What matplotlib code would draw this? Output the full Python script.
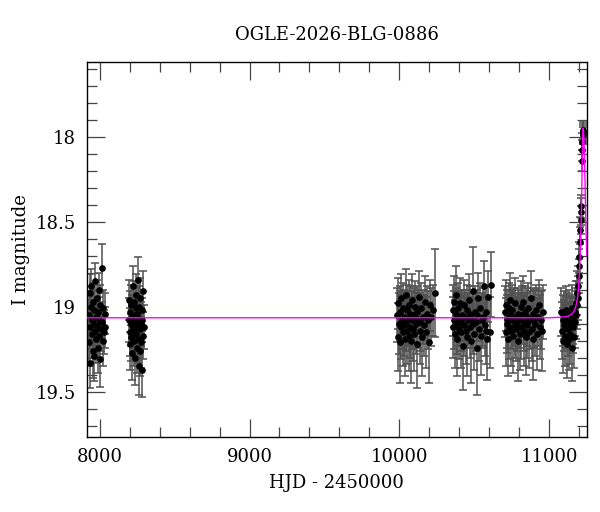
import matplotlib
matplotlib.use("Agg")
import matplotlib.pyplot as plt
from matplotlib.ticker import MultipleLocator

title = "OGLE-2026-BLG-0886"
xlabel = "HJD - 2450000"
ylabel = "I magnitude"

# Season 1
t1 = [7926, 7929, 7932, 7935, 7938, 7941, 7944, 7947, 7950, 7953, 7956, 7959, 7962, 7965, 7968, 7971, 7974, 7977,
      7980, 7983, 7986, 7989, 7992, 7995, 7998, 8001, 8004, 8008, 8012, 8016, 8020, 8024, 8028, 8033, 8038]
m1 = [19.05, 19.21, 18.92, 19.12, 19.33, 19.00, 18.88, 19.16, 19.08, 19.26, 18.97, 19.10, 19.02, 19.29, 18.85, 19.14,
      19.06, 19.19, 18.95, 19.11, 19.24, 19.03, 18.90, 19.17, 19.07, 19.31, 18.99, 19.13, 19.09, 18.77, 19.20, 19.01,
      19.15, 19.04, 19.12]
e1 = [0.12, 0.14, 0.11, 0.13, 0.15, 0.12, 0.10, 0.14, 0.12, 0.16, 0.11, 0.13, 0.12, 0.15, 0.11, 0.13, 0.12, 0.14,
      0.11, 0.12, 0.15, 0.12, 0.10, 0.14, 0.13, 0.16, 0.12, 0.13, 0.12, 0.14, 0.15, 0.11, 0.13, 0.12, 0.12]

# Season 2
t2 = [8195, 8198, 8200, 8203, 8205, 8208, 8210, 8212, 8215, 8217, 8220, 8222, 8225, 8227, 8230, 8232, 8235, 8237,
      8240, 8242, 8245, 8247, 8250, 8252, 8255, 8257, 8260, 8262, 8265, 8267, 8270, 8272, 8275, 8277, 8280, 8282,
      8285, 8287, 8290, 8293]
m2 = [19.08, 18.96, 19.15, 19.03, 19.22, 19.10, 18.99, 19.18, 19.06, 19.27, 18.88, 19.12, 19.05, 19.20, 18.97, 19.14,
      19.09, 19.30, 19.01, 19.16, 18.93, 19.11, 19.24, 19.04, 18.84, 19.19, 19.07, 19.35, 19.00, 19.13, 19.26, 18.95,
      19.10, 19.21, 19.02, 19.37, 19.08, 18.91, 19.17, 19.12]
e2 = [0.13, 0.12, 0.14, 0.12, 0.15, 0.13, 0.12, 0.14, 0.13, 0.16, 0.12, 0.13, 0.12, 0.15, 0.12, 0.14, 0.13, 0.16,
      0.12, 0.14, 0.12, 0.13, 0.15, 0.12, 0.13, 0.14, 0.13, 0.17, 0.12, 0.13, 0.15, 0.12, 0.13, 0.15, 0.12, 0.16,
      0.13, 0.12, 0.14, 0.13]

# Season 3
t3 = [9986, 9990, 9994, 9998, 10002, 10006, 10010, 10014, 10018, 10022, 10026, 10030, 10034, 10038, 10042, 10046,
      10050, 10054, 10058, 10062, 10066, 10070, 10074, 10078, 10082, 10086, 10091, 10096, 10101, 10106, 10111, 10116,
      10121, 10126, 10131, 10136, 10141, 10146, 10152, 10158, 10164, 10170, 10176, 10182, 10189, 10196, 10204, 10213,
      10224, 10240]
m3 = [19.05, 19.18, 18.98, 19.10, 19.21, 19.03, 19.12, 18.95, 19.08, 19.15, 19.01, 19.11, 19.06, 19.19, 18.93, 19.09,
      19.14, 19.02, 19.07, 19.17, 18.99, 19.12, 19.04, 19.20, 19.08, 18.96, 19.13, 19.05, 19.16, 19.00, 19.10, 19.22,
      19.03, 19.07, 18.94, 19.14, 19.09, 19.01, 19.18, 19.06, 19.11, 18.97, 19.15, 19.04, 19.08, 19.21, 18.99, 19.06,
      19.02, 18.92]
e3 = [0.16, 0.20, 0.15, 0.18, 0.24, 0.15, 0.19, 0.14, 0.17, 0.20, 0.15, 0.18, 0.16, 0.22, 0.15, 0.17, 0.20, 0.15,
      0.16, 0.21, 0.15, 0.18, 0.16, 0.25, 0.17, 0.15, 0.19, 0.16, 0.22, 0.15, 0.18, 0.26, 0.15, 0.17, 0.15, 0.20,
      0.17, 0.15, 0.23, 0.16, 0.18, 0.15, 0.21, 0.16, 0.17, 0.24, 0.15, 0.17, 0.15, 0.26]

# Season 4
t4 = [10356, 10360, 10364, 10368, 10372, 10376, 10380, 10384, 10388, 10392, 10396, 10400, 10405, 10410, 10415,
      10420, 10425, 10430, 10435, 10440, 10445, 10450, 10455, 10460, 10465, 10470, 10475, 10480, 10485, 10490,
      10495, 10500, 10505, 10510, 10516, 10522, 10528, 10534, 10540, 10546, 10552, 10558, 10564, 10570, 10576,
      10582, 10588, 10595, 10603, 10612]
m4 = [19.02, 19.12, 18.97, 19.08, 19.16, 19.04, 18.93, 19.10, 19.19, 19.01, 19.07, 19.13, 18.98, 19.09, 19.15, 19.05,
      19.23, 18.99, 19.11, 19.06, 19.14, 19.02, 19.18, 19.08, 18.96, 19.12, 19.04, 19.20, 19.07, 18.91, 19.10, 19.16,
      19.03, 19.09, 19.24, 19.05, 18.95, 19.13, 19.01, 19.17, 19.08, 19.06, 18.88, 19.11, 19.03, 19.14, 19.19, 18.94,
      19.15, 18.87]
e4 = [0.15, 0.18, 0.15, 0.17, 0.20, 0.15, 0.17, 0.18, 0.22, 0.15, 0.16, 0.18, 0.15, 0.17, 0.21, 0.15, 0.26, 0.15,
      0.18, 0.16, 0.20, 0.15, 0.23, 0.16, 0.15, 0.18, 0.16, 0.25, 0.17, 0.26, 0.18, 0.21, 0.15, 0.17, 0.28, 0.15,
      0.15, 0.19, 0.15, 0.23, 0.16, 0.17, 0.15, 0.18, 0.15, 0.20, 0.24, 0.15, 0.21, 0.19]

# Season 5
t5 = [10706, 10710, 10714, 10718, 10722, 10726, 10730, 10734, 10738, 10742, 10746, 10750, 10755, 10760, 10765,
      10770, 10775, 10780, 10785, 10790, 10795, 10800, 10805, 10810, 10815, 10820, 10825, 10830, 10835, 10840,
      10845, 10850, 10855, 10860, 10866, 10872, 10878, 10884, 10890, 10896, 10902, 10908, 10914, 10920, 10926,
      10932, 10938, 10945, 10953, 10962]
m5 = [19.03, 19.15, 18.99, 19.10, 19.07, 19.19, 19.01, 19.12, 19.05, 18.96, 19.14, 19.08, 19.02, 19.17, 19.06, 19.11,
      18.98, 19.13, 19.09, 19.20, 19.04, 19.07, 19.16, 19.00, 19.12, 19.05, 18.97, 19.14, 19.09, 19.03, 19.18, 19.06,
      19.11, 19.01, 19.15, 19.08, 18.95, 19.13, 19.04, 19.19, 19.07, 19.10, 19.02, 19.16, 19.06, 18.99, 19.12, 19.08,
      19.14, 19.03]
e5 = [0.15, 0.20, 0.15, 0.17, 0.17, 0.22, 0.15, 0.19, 0.15, 0.16, 0.21, 0.17, 0.15, 0.22, 0.17, 0.19, 0.15, 0.19,
      0.17, 0.24, 0.15, 0.17, 0.21, 0.15, 0.19, 0.17, 0.15, 0.21, 0.17, 0.15, 0.22, 0.17, 0.19, 0.15, 0.21, 0.17,
      0.16, 0.19, 0.15, 0.24, 0.17, 0.19, 0.15, 0.21, 0.17, 0.15, 0.19, 0.17, 0.24, 0.16]

# Season 6 (baseline + rise to peak)
t6 = [11082, 11086, 11090, 11094, 11098, 11102, 11106, 11110, 11114, 11118, 11122, 11126, 11130, 11134, 11138,
      11142, 11146, 11150, 11154, 11158, 11162, 11166, 11170, 11174, 11178, 11181, 11184, 11187, 11190, 11193,
      11197, 11200, 11203, 11206, 11209, 11212, 11214, 11216, 11221, 11222, 11223, 11224, 11225, 11226, 11227]
m6 = [19.03, 19.14, 19.08, 19.20, 19.05, 19.11, 19.17, 19.02, 19.09, 19.22, 19.06, 19.13, 19.19, 19.04, 19.10, 19.16,
      19.07, 19.24, 19.01, 19.12, 19.08, 19.18, 19.03, 19.09, 19.05, 18.98, 18.99, 18.92, 18.95, 18.88,
      18.82, 18.76, 18.71, 18.62, 18.55, 18.49, 18.44, 18.41, 18.14, 18.08, 18.03, 17.99, 17.97, 17.96, 17.98]
e6 = [0.14, 0.17, 0.15, 0.19, 0.14, 0.15, 0.18, 0.14, 0.15, 0.20, 0.14, 0.16, 0.18, 0.14, 0.15, 0.18, 0.14, 0.20,
      0.14, 0.15, 0.14, 0.18, 0.14, 0.15, 0.14, 0.13, 0.14, 0.13, 0.13, 0.12,
      0.10, 0.10, 0.09, 0.09, 0.08, 0.08, 0.08, 0.07, 0.06, 0.06, 0.05, 0.05, 0.05, 0.05, 0.05]

# Model curve
model_t = [7915, 11000, 11060, 11100, 11130, 11150, 11165, 11178, 11188, 11196, 11203, 11209, 11214, 11218, 11221,
           11224, 11227, 11231, 11236, 11241, 11246, 11252]
model_m = [19.065, 19.065, 19.063, 19.06, 19.055, 19.045, 19.03, 19.0, 18.96, 18.9, 18.8, 18.68, 18.52, 18.35, 18.18,
           18.02, 17.95, 17.97, 18.1, 18.3, 18.52, 18.7]

t_all = t1 + t2 + t3 + t4 + t5 + t6
m_all = m1 + m2 + m3 + m4 + m5 + m6
e_all = e1 + e2 + e3 + e4 + e5 + e6

plt.rcParams['font.family'] = ['DejaVu Serif']
fig = plt.figure(figsize=(6.0, 5.12), dpi=100)
ax = fig.add_axes([0.145, 0.147, 0.833, 0.732])

ax.errorbar(t_all, m_all, yerr=e_all, fmt='o', color='black', ms=3.8, ecolor='#505050',
            elinewidth=1.1, capsize=2.8, capthick=1.1, zorder=2)
ax.plot(model_t, model_m, color='#ff00ff', lw=1.0, zorder=3)

ax.set_xlim(7915, 11252)
ax.set_ylim(19.765, 17.56)

ax.xaxis.set_major_locator(MultipleLocator(1000))
ax.xaxis.set_minor_locator(MultipleLocator(200))
ax.yaxis.set_major_locator(MultipleLocator(0.5))
ax.yaxis.set_minor_locator(MultipleLocator(0.1))
ax.yaxis.set_major_formatter(plt.FuncFormatter(lambda v, p: ('%g' % v)))

ax.tick_params(which='both', direction='in', top=True, right=True, labelsize=13, color='#444444')
ax.tick_params(which='major', length=13, width=0.9, pad=8)
ax.tick_params(which='minor', length=7, width=0.9)

ax.set_title(title, fontsize=13, pad=16)
ax.set_xlabel(xlabel, fontsize=13, labelpad=6)
ax.set_ylabel(ylabel, fontsize=13, labelpad=4)
for s in ax.spines.values():
    s.set_linewidth(1.0)

fig.savefig('out.png', dpi=100)
